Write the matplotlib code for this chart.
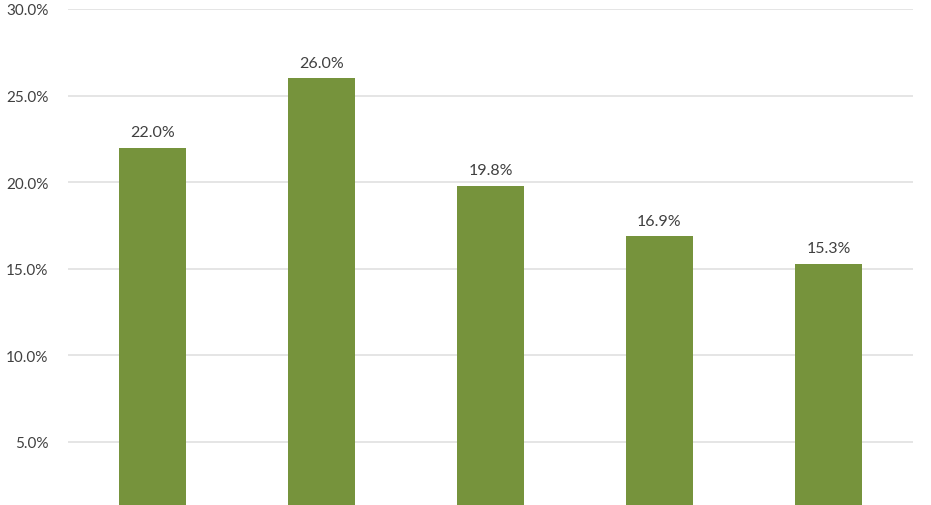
import matplotlib
matplotlib.use("Agg")
import matplotlib.pyplot as plt
from matplotlib.ticker import FuncFormatter

categories = ["A", "B", "C", "D", "E"]
values = [22.0, 26.0, 19.8, 16.9, 15.3]
yticks = [5, 10, 15, 20, 25, 30]

plt.rcParams['font.family'] = ['Lato', 'DejaVu Sans']

fig = plt.figure(figsize=(9.31, 5.06), dpi=100)
ax = fig.add_axes([68/931, 0, (913-68)/931, 1 - 10/506])
x = range(len(categories))
bars = ax.bar(x, values, width=0.395, color="#76933C", zorder=3)
for xi, v in zip(x, values):
    ax.annotate(f"{v:.1f}%", (xi, v), xytext=(0, 6), textcoords="offset points",
                ha="center", va="bottom", fontsize=11.5, color="#404040")
ax.set_xlim(-0.5, len(categories) - 0.5)
ax.set_ylim(1.36, 30)
ax.set_yticks(yticks)
ax.yaxis.set_major_formatter(FuncFormatter(lambda v, p: f"{v:.1f}%"))
ax.tick_params(axis='y', length=0, pad=14, labelsize=11, labelcolor="#404040")
ax.set_xticks([])
ax.grid(axis='y', color="#E3E3E3", linewidth=1.3, zorder=0)
for s in ax.spines.values():
    s.set_visible(False)
ax.patch.set_alpha(0)
fig.savefig("out.png", dpi=100)
